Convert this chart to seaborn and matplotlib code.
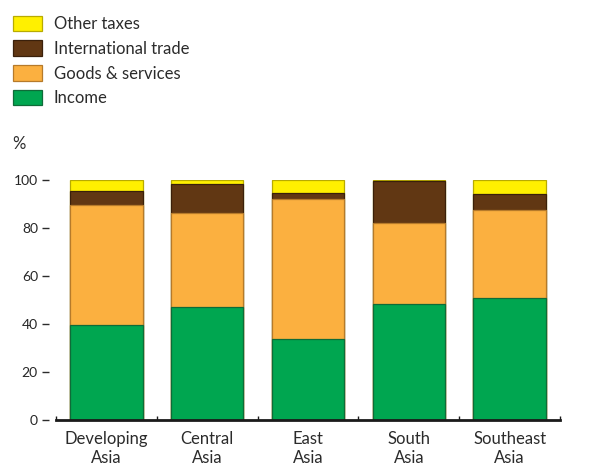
import matplotlib
matplotlib.use("Agg")
import matplotlib.pyplot as plt
from matplotlib.patches import Patch
import seaborn as sns
import numpy as np
import pandas as pd

categories = ["Developing\nAsia", "Central\nAsia", "East\nAsia", "South\nAsia", "Southeast\nAsia"]
income = [39.7, 46.9, 33.9, 48.5, 51.0]
goods_services = [49.7, 39.3, 58.1, 33.5, 36.6]
international_trade = [6.1, 12.1, 2.7, 17.6, 6.5]
other_taxes = [4.5, 1.7, 5.3, 0.4, 5.9]
yticks = [0, 20, 40, 60, 80, 100]

sns.set_style("white")
plt.rcParams["font.family"] = ["Lato", "DejaVu Sans"]
TXT = "#2b2b2b"

series = [
    ("Other taxes", other_taxes, "#FFF000", "#b8ab00"),
    ("International trade", international_trade, "#613713", "#3a200b"),
    ("Goods & services", goods_services, "#FBB040", "#b67a2a"),
    ("Income", income, "#00A650", "#0f6b38"),
]

layers_bottom_up = [income, goods_services, international_trade, other_taxes]
cum = np.cumsum(np.array(layers_bottom_up), axis=0)
tops = {"Income": cum[0], "Goods & services": cum[1],
        "International trade": cum[2], "Other taxes": cum[3]}

fig = plt.figure(figsize=(5.94, 4.68), dpi=100)
ax = fig.add_axes([56/594, 48/468, 504/594, 240/468])

for name, vals, color, edge in series:
    df = pd.DataFrame({"cat": categories, "val": tops[name]})
    sns.barplot(data=df, x="cat", y="val", color=color, edgecolor=edge,
                linewidth=0.9, width=0.72, saturation=1, ax=ax)

ax.set_xlim(-0.5, 4.5)
ax.set_ylim(0, 100)
ax.set_xlabel("")
ax.set_ylabel("")
ax.set_yticks(yticks)
ax.set_yticklabels([str(t) for t in yticks], fontsize=13, color=TXT)
ax.tick_params(axis="y", direction="out", length=7*0.72, width=1.0, color=TXT, pad=3, left=True)
ax.spines["left"].set_position(("outward", 5))
ax.spines["left"].set_visible(False)
ax.spines["right"].set_visible(False)
ax.spines["top"].set_visible(False)
ax.spines["bottom"].set_linewidth(2.0)
ax.spines["bottom"].set_color("#1a1a1a")

ax.set_xticks(range(len(categories)))
ax.set_xticklabels(categories, fontsize=12, color=TXT, linespacing=1.25)
ax.tick_params(axis="x", which="major", length=0, pad=8)
ax.set_xticks(np.arange(-0.5, 5.0, 1.0), minor=True)
ax.tick_params(axis="x", which="minor", direction="in", length=4*0.72, width=1.0, color="#1a1a1a", bottom=True)

fig.text(12/594, 1 - 144/468, "%", fontsize=12, color=TXT, va="center", ha="left")

handles = [Patch(facecolor=c, edgecolor=e, linewidth=0.9, label=n) for n, _, c, e in series]
fig.legend(handles=handles, loc="upper left", bbox_to_anchor=(6/594, 1 - 9/468),
           frameon=False, fontsize=12, handlelength=1.75, handleheight=1.05,
           handletextpad=0.7, labelspacing=0.5, labelcolor=TXT, borderaxespad=0)

fig.savefig("out.png", dpi=100)
